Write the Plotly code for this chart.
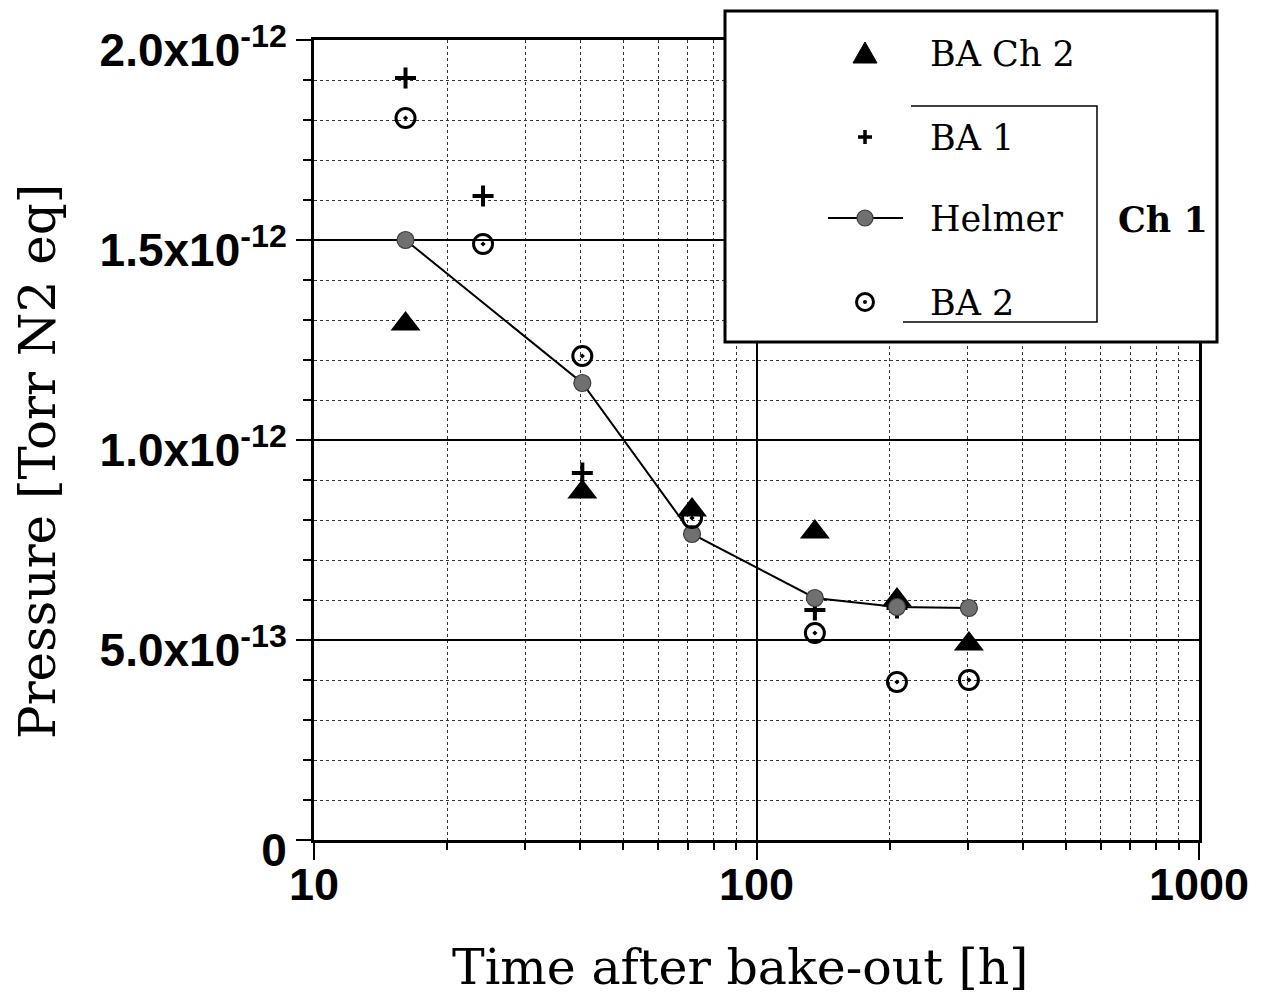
import plotly.graph_objects as go

# ---------------- data (pressure in units of 1e-12 Torr N2 eq) ----------------
time_ch2 = [16.1, 40.4, 71.5, 135.5, 207.7, 302]
ba_ch2 = [1.29, 0.87, 0.825, 0.77, 0.60, 0.49]

time_ba1 = [16.1, 24.1, 40.4, 135.5, 207.7]
ba1 = [1.905, 1.61, 0.9175, 0.575, 0.58]

time_helmer = [16.1, 40.4, 71.5, 135.5, 207.7, 302]
helmer = [1.50, 1.1425, 0.765, 0.605, 0.5825, 0.58]

time_ba2 = [16.1, 24.1, 40.4, 71.5, 135.5, 207.7, 302]
ba2 = [1.805, 1.49, 1.21, 0.805, 0.5175, 0.395, 0.40]

SCALE = 1e-12
y_tickvals = [0, 0.5, 1.0, 1.5, 2.0]
y_ticktext = ["0", "5.0x10<sup>-13</sup>", "1.0x10<sup>-12</sup>",
              "1.5x10<sup>-12</sup>", "2.0x10<sup>-12</sup>"]
x_tickvals = [10, 100, 1000]
x_ticktext = ["10", "100", "1000"]

legend_labels = ["BA Ch 2", "BA 1", "Helmer", "BA 2"]
group_label = "Ch 1"
x_title = "Time after bake-out [h]"
y_title = "Pressure [Torr N2 eq]"

# ---------------- layout geometry (page pixel coords) ----------------
OFF = 8                      # default body margin of the html page
W, H = 1264 - OFF, 998 - OFF
L, R, T, B = 314, 1199, 40, 840


def xp(x):
    return (x - L) / (R - L)


def yp(y):
    return (B - y) / (B - T)


def sc(v):
    return [a * SCALE for a in v]


fig = go.Figure()

fig.add_trace(go.Scatter(
    x=time_ch2, y=sc(ba_ch2), mode="markers", name=legend_labels[0],
    marker=dict(symbol="triangle-up", size=26, color="black",
                line=dict(width=0)),
    showlegend=False, cliponaxis=False))

fig.add_trace(go.Scatter(
    x=time_ba1, y=sc(ba1), mode="markers", name=legend_labels[1],
    marker=dict(symbol="cross-thin", size=15, color="black",
                line=dict(width=4, color="black")),
    showlegend=False, cliponaxis=False))

fig.add_trace(go.Scatter(
    x=time_helmer, y=sc(helmer), mode="lines+markers", name=legend_labels[2],
    line=dict(color="black", width=2),
    marker=dict(symbol="circle", size=17, color="#707070",
                line=dict(width=1.2, color="#3c3c3c")),
    showlegend=False, cliponaxis=False))

fig.add_trace(go.Scatter(
    x=time_ba2, y=sc(ba2), mode="markers", name=legend_labels[3],
    marker=dict(symbol="circle-open-dot", size=19, color="black",
                line=dict(width=3, color="black")),
    showlegend=False, cliponaxis=False))

fig.update_xaxes(
    type="log", range=[1, 3],
    tickmode="array", tickvals=x_tickvals, ticktext=x_ticktext,
    tickfont=dict(family="Liberation Sans, Arial, sans-serif", size=45,
                  color="black", weight="bold"),
    ticks="outside", ticklen=17, tickwidth=2, tickcolor="black",
    showline=True, linewidth=3, linecolor="black", mirror=True,
    showgrid=True, gridcolor="black", gridwidth=2,
    minor=dict(dtick="D1", showgrid=True, gridcolor="#333333",
               griddash="dot", gridwidth=1, ticks="outside", ticklen=7,
               tickwidth=2, tickcolor="black"),
    zeroline=False, ticklabelstandoff=-14,
)

fig.update_yaxes(
    range=[0, 2.0 * SCALE],
    tickmode="array", tickvals=sc(y_tickvals), ticktext=y_ticktext,
    tickfont=dict(family="Liberation Sans, Arial, sans-serif", size=46,
                  color="black", weight="bold"),
    ticks="outside", ticklen=15, tickwidth=2, tickcolor="black",
    showline=True, linewidth=3, linecolor="black", mirror=True,
    showgrid=True, gridcolor="black", gridwidth=2,
    minor=dict(tick0=0, dtick=0.1 * SCALE, showgrid=True,
               gridcolor="#333333", griddash="dot", gridwidth=1,
               ticks="outside", ticklen=8, tickwidth=2, tickcolor="black"),
    zeroline=False, ticklabelshift=10,
)

# ---------------- hand-drawn legend box ----------------
shapes = []
shapes.append(dict(type="rect", xref="paper", yref="paper", layer="above",
                   x0=xp(725), x1=xp(1217), y0=yp(342), y1=yp(11),
                   fillcolor="white", line=dict(color="black", width=3)))
shapes.append(dict(type="path", xref="paper", yref="paper", layer="above",
                   path=f"M{xp(911)},{yp(106)} L{xp(1097)},{yp(106)} "
                        f"L{xp(1097)},{yp(322)} L{xp(903)},{yp(322)}",
                   line=dict(color="black", width=1.5)))

mx = 865
row_y = [53, 137, 218, 302]
# triangle
shapes.append(dict(type="path", xref="paper", yref="paper", layer="above",
                   path=f"M{xp(mx-12)},{yp(row_y[0]+10)} L{xp(mx+12)},{yp(row_y[0]+10)} "
                        f"L{xp(mx)},{yp(row_y[0]-11)} Z",
                   fillcolor="black", line=dict(color="black", width=1)))
# cross
shapes.append(dict(type="path", xref="paper", yref="paper", layer="above",
                   path=f"M{xp(mx-7)},{yp(row_y[1])} L{xp(mx+7)},{yp(row_y[1])} "
                        f"M{xp(mx)},{yp(row_y[1]-7)} L{xp(mx)},{yp(row_y[1]+7)}",
                   line=dict(color="black", width=3.5)))
# helmer line + disk
shapes.append(dict(type="line", xref="paper", yref="paper", layer="above",
                   x0=xp(828), x1=xp(903), y0=yp(row_y[2]), y1=yp(row_y[2]),
                   line=dict(color="black", width=2)))
shapes.append(dict(type="circle", xref="paper", yref="paper", layer="above",
                   x0=xp(mx-8), x1=xp(mx+8), y0=yp(row_y[2]+8), y1=yp(row_y[2]-8),
                   fillcolor="#707070", line=dict(color="#3c3c3c", width=1.2)))
# circle with dot
shapes.append(dict(type="circle", xref="paper", yref="paper", layer="above",
                   x0=xp(mx-8.5), x1=xp(mx+8.5), y0=yp(row_y[3]+8.5), y1=yp(row_y[3]-8.5),
                   fillcolor="white", line=dict(color="black", width=3)))
shapes.append(dict(type="circle", xref="paper", yref="paper", layer="above",
                   x0=xp(mx-2), x1=xp(mx+2), y0=yp(row_y[3]+2), y1=yp(row_y[3]-2),
                   fillcolor="black", line=dict(color="black", width=0)))

serif = "DejaVu Serif, Liberation Serif, serif"
annotations = []
for lab, ry in zip(legend_labels, row_y):
    annotations.append(dict(text=lab, xref="paper", yref="paper",
                            x=xp(928), y=yp(ry + 1), xanchor="left",
                            yanchor="middle", showarrow=False,
                            font=dict(family=serif, size=35, color="black")))
annotations.append(dict(text=f"<b>{group_label}</b>", xref="paper", yref="paper",
                        x=xp(1163), y=yp(219), xanchor="center",
                        yanchor="middle", showarrow=False,
                        font=dict(family=serif, size=35, color="black")))
# axis titles
annotations.append(dict(text=x_title, xref="paper", yref="paper",
                        x=xp(740), y=yp(968), xanchor="center",
                        yanchor="middle", showarrow=False,
                        font=dict(family=serif, size=49, color="black")))
annotations.append(dict(text=y_title, xref="paper", yref="paper",
                        x=xp(38), y=yp(462), xanchor="center",
                        yanchor="middle", showarrow=False, textangle=-90,
                        font=dict(family=serif, size=50, color="black")))

fig.update_layout(
    width=W, height=H,
    margin=dict(l=L - OFF, r=W - (R - OFF), t=T - OFF, b=H - (B - OFF),
                autoexpand=False),
    paper_bgcolor="white", plot_bgcolor="white",
    showlegend=False,
    shapes=shapes, annotations=annotations,
)

fig.write_html("out.html")
